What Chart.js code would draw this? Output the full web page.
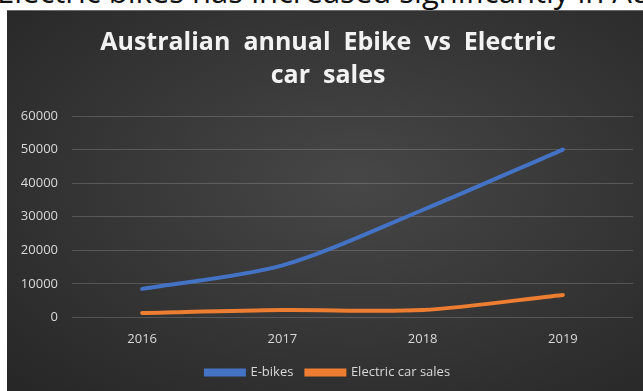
<!DOCTYPE html>
<html>
<head>
<meta charset="utf-8">
<script src="https://cdn.jsdelivr.net/npm/chart.js@4"></script>
<style>
  body { margin: 0; background: #fff; width: 643px; height: 391px; overflow: hidden; position: relative; }
  #caption {
    position: absolute; left: -3px; top: -24px; white-space: nowrap;
    font-family: "Open Sans", sans-serif; font-size: 31px; line-height: 31px; color: #111;
  }
  #panel {
    position: absolute; left: 7px; top: 10px; width: 636px; height: 381px;
    background: radial-gradient(ellipse at 55% 45%, #474747 0%, #383838 45%, #262626 100%);
    border-top: 1px solid #6a6a6a;
  }
</style>
</head>
<body>
<div id="caption">Electric bikes has increased significantly in Australia</div>
<div id="panel"><canvas id="myChart"></canvas></div>
<script>
const blueColor = '#4472c4'
const orangeColor = '#ed7d31'
const textColor = '#d9d9d9'

// values
const years = ['2016', '2017', '2018', '2019']
const ebikes = [8500, 15500, 32000, 50000]
const electricCars = [1300, 2200, 2200, 6700]
const yTicks = [0, 10000, 20000, 30000, 40000, 50000, 60000]

var ctx = document.getElementById('myChart')
ctx.width = 636
ctx.height = 381

var lineChart = new Chart(ctx, {
  type: 'line',
  data: {
    labels: years,
    datasets: [{
      label: 'E-bikes',
      data: ebikes,
      borderColor: blueColor,
      backgroundColor: blueColor,
      borderWidth: 4,
      pointRadius: 0,
      tension: 0.3,
      borderCapStyle: 'round'
    }, {
      label: 'Electric car sales',
      data: electricCars,
      borderColor: orangeColor,
      backgroundColor: orangeColor,
      borderWidth: 4,
      pointRadius: 0,
      tension: 0.3,
      borderCapStyle: 'round'
    }]
  },
  options: {
    responsive: false,
    animation: false,
    layout: { padding: { left: 6, right: 0, top: 10, bottom: 3 } },
    plugins: {
      title: {
        display: true,
        text: ['Australian  annual  Ebike  vs  Electric', 'car  sales'],
        color: '#f2f2f2',
        font: { family: '"Open Sans", sans-serif', size: 25, weight: 'bold', lineHeight: 1.3 },
        padding: { top: 6, bottom: 24 }
      },
      legend: {
        position: 'bottom',
        labels: {
          color: textColor,
          font: { family: '"Open Sans", sans-serif', size: 13 },
          boxWidth: 38,
          boxHeight: 4,
          padding: 13
        }
      },
      tooltip: { enabled: false }
    },
    scales: {
      x: {
        offset: true,
        grid: { display: false },
        border: { display: false },
        ticks: { color: textColor, font: { family: '"Open Sans", sans-serif', size: 13 }, padding: 6 }
      },
      y: {
        min: 0,
        max: 60000,
        afterFit: s => { s.width = 59 },
        afterBuildTicks: s => { s.ticks = yTicks.map(v => ({ value: v })) },
        grid: { color: 'rgba(255,255,255,0.17)', lineWidth: 1, drawTicks: false },
        border: { display: false },
        ticks: {
          color: textColor,
          font: { family: '"Open Sans", sans-serif', size: 13 },
          padding: 14,
          callback: v => String(v)
        }
      },
      // empty right-hand spacer so the plot ends where the reference does
      y2: {
        position: 'right',
        min: 0,
        max: 60000,
        afterFit: s => { s.width = 10 },
        grid: { display: false },
        border: { display: false },
        ticks: { display: false }
      }
    }
  }
})
</script>
</body>
</html>
